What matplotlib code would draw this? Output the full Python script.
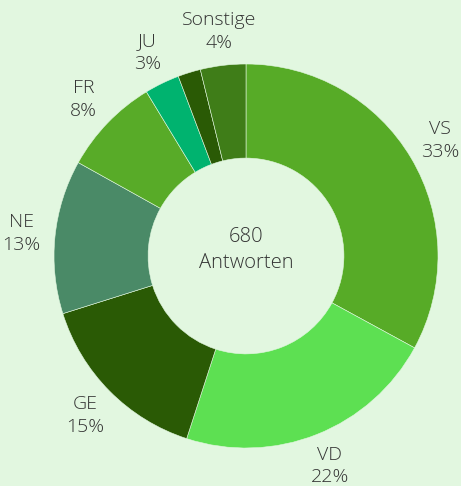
import matplotlib.pyplot as plt
import numpy as np

# Antworten pro Kanton
labels = ["VS", "VD", "GE", "NE", "FR", "JU", "", "Sonstige"]
counts = [224, 150, 103, 88, 56, 20, 13, 26]
colors = ["#57ab27", "#5de052", "#2a5a05", "#4a8a67", "#58ab28", "#00b36f", "#2a5a05", "#3f7d18"]
total_text = "680\nAntworten"

bg = "#e2f7e0"
text_color = "#333333"
plt.rcParams["font.family"] = ["Open Sans", "DejaVu Sans"]

fig = plt.figure(figsize=(4.61, 4.86), dpi=100, facecolor=bg)
ax = fig.add_axes([0, 0, 1, 1])
ax.set_facecolor(bg)

cx, cy, r = 246, 230, 192
wedges, _ = ax.pie(
    counts,
    colors=colors,
    startangle=90,
    counterclock=False,
    center=(cx, cy),
    radius=r,
    wedgeprops=dict(width=r * 0.49, edgecolor=bg, linewidth=0.4),
)

total = sum(counts)
for w, lab, c in zip(wedges, labels, counts):
    if not lab:
        continue
    ang = np.deg2rad((w.theta1 + w.theta2) / 2)
    lx = cx + 226 * np.cos(ang)
    ly = cy + 226 * np.sin(ang)
    ax.text(lx, ly, f"{lab}\n{round(100 * c / total)}%", ha="center", va="center",
            fontsize=14, color=text_color, linespacing=1.35, fontweight="light")

ax.text(cx, cy + 6, total_text, ha="center", va="center", fontsize=14.5,
        color=text_color, linespacing=1.35, fontweight="light")

ax.set_xlim(0, 461)
ax.set_ylim(0, 486)
ax.set_aspect("equal")
ax.axis("off")

fig.savefig("out.png", dpi=100, facecolor=bg)
